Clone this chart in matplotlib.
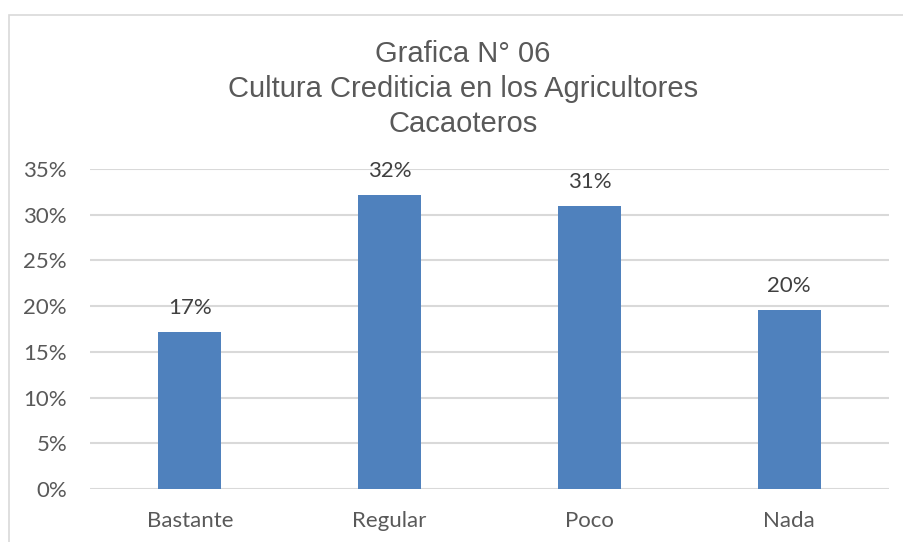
import matplotlib.pyplot as plt
from matplotlib.patches import Rectangle
from matplotlib.ticker import PercentFormatter

categorias = ["Bastante", "Regular", "Poco", "Nada"]
valores = [0.172, 0.322, 0.310, 0.196]
titulo = "Grafica N° 06\nCultura Crediticia en los Agricultores\nCacaoteros"

gris = "#595959"
azul = "#4F81BD"
rejilla = "#D9D9D9"

fig = plt.figure(figsize=(9.04, 5.42), dpi=100)
ax = fig.add_axes([90 / 904, 53 / 542, 799 / 904, 320 / 542])

# chart border like the excel chart area
fig.patches.append(Rectangle((8.5 / 904, -0.1), 1.2, (542 - 14.5) / 542 + 0.1,
                             transform=fig.transFigure, fill=False,
                             edgecolor=rejilla, linewidth=1.2))

x = range(len(categorias))
bars = ax.bar(x, valores, width=0.315, color=azul, zorder=3)

for b, v in zip(bars, valores):
    ax.annotate(f"{v:.0%}", (b.get_x() + b.get_width() / 2, v),
                xytext=(0, 10), textcoords="offset points",
                ha="center", va="bottom", fontsize=16, color="#404040",
                family="Lato")

ax.set_xlim(-0.5, 3.5)
ax.set_ylim(0, 0.35)
ax.set_yticks([0, 0.05, 0.10, 0.15, 0.20, 0.25, 0.30, 0.35])
ax.yaxis.set_major_formatter(PercentFormatter(1.0, decimals=0))
ax.set_xticks(list(x))
ax.set_xticklabels(categorias)
ax.grid(axis="y", color=rejilla, linewidth=1.5, zorder=0)
for s in ax.spines.values():
    s.set_visible(False)
ax.tick_params(length=0, labelsize=16, labelcolor=gris)
ax.tick_params(axis="x", pad=15.5)
ax.tick_params(axis="y", pad=16.5)
for lbl in ax.get_xticklabels() + ax.get_yticklabels():
    lbl.set_family("Lato")

fig.text(463 / 904, 1 - 89 / 542, titulo, ha="center", va="center",
         fontsize=21, color=gris, family="Liberation Sans", linespacing=1.32)

fig.savefig("out.png", dpi=100)
